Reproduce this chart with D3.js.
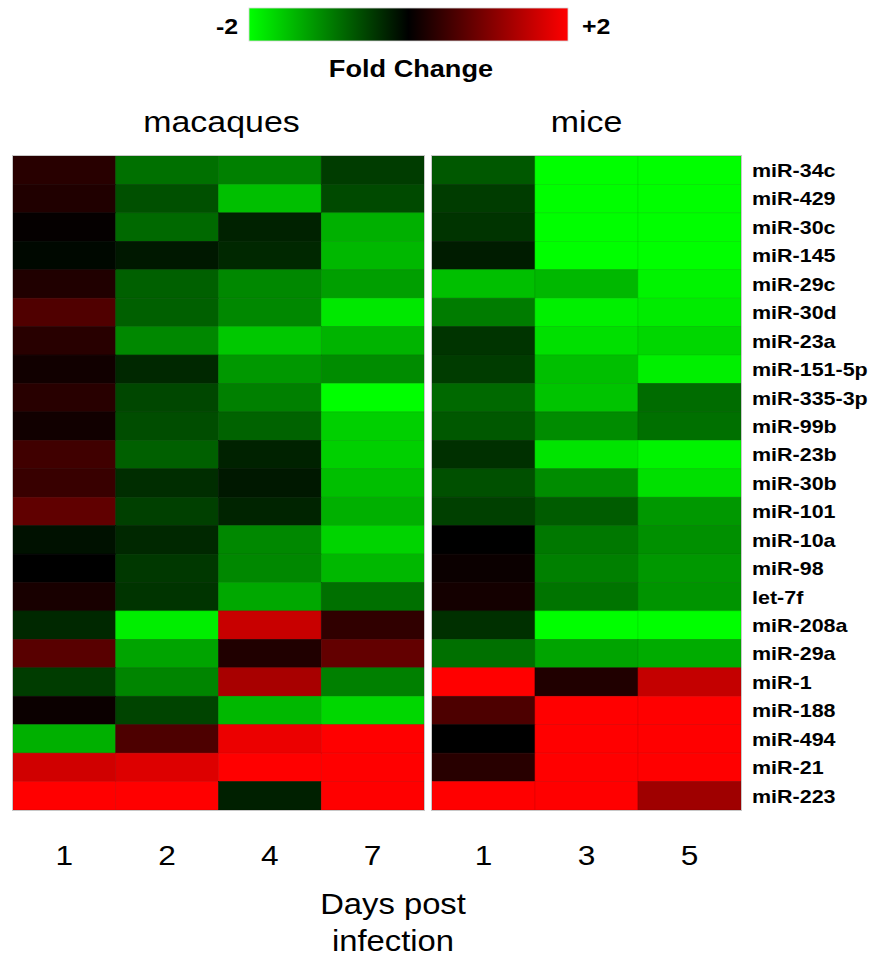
<!DOCTYPE html>
<html lang="en">
	<head>
		<meta charset="utf-8">
		<title>miRNA fold change heatmap</title>
		<script type="text/javascript" src="https://cdn.jsdelivr.net/npm/d3@7"></script>
		<style type="text/css">
			body { margin: 0; background: #fff; }
			text { font-family: "Liberation Sans", Arial, sans-serif; fill: #000; }
		</style>
	</head>
	<body>
		<script type="text/javascript">

			//Width and height
			var w = 875;
			var h = 961;
			var stretch = 1.13;  //the original figure is a little wider than its fonts

			//Row labels, top to bottom
			var mirnas = ["miR-34c", "miR-429", "miR-30c", "miR-145", "miR-29c", "miR-30d",
				"miR-23a", "miR-151-5p", "miR-335-3p", "miR-99b", "miR-23b", "miR-30b",
				"miR-101", "miR-10a", "miR-98", "let-7f", "miR-208a", "miR-29a",
				"miR-1", "miR-188", "miR-494", "miR-21", "miR-223"];

			//Days post infection
			var macaqueDays = ["1", "2", "4", "7"];
			var miceDays = ["1", "3", "5"];

			//Fold change per row, one value per day
			var macaqueValues = [
				[0.31, -0.88, -1.00, -0.47],
				[0.25, -0.63, -1.50, -0.58],
				[0.04, -0.82, -0.27, -1.38],
				[-0.06, -0.19, -0.31, -1.44],
				[0.25, -0.75, -1.07, -1.25],
				[0.63, -0.75, -1.07, -1.82],
				[0.31, -1.07, -1.57, -1.41],
				[0.13, -0.31, -1.19, -1.10],
				[0.31, -0.56, -1.00, -2.00],
				[0.13, -0.60, -0.78, -1.63],
				[0.50, -0.75, -0.27, -1.63],
				[0.44, -0.35, -0.19, -1.50],
				[0.75, -0.50, -0.28, -1.38],
				[-0.13, -0.31, -1.07, -1.66],
				[0.00, -0.44, -1.07, -1.44],
				[0.19, -0.41, -1.32, -0.88],
				[-0.31, -1.87, 1.57, 0.38],
				[0.69, -1.29, 0.25, 0.78],
				[-0.47, -1.04, 1.32, -1.00],
				[0.09, -0.53, -1.44, -1.69],
				[-1.38, 0.60, 1.85, 2.00],
				[1.63, 1.73, 2.00, 2.00],
				[2.00, 2.00, -0.25, 2.00]
			];

			var miceValues = [
				[-0.69, -2.00, -2.00],
				[-0.47, -2.00, -2.00],
				[-0.41, -2.00, -2.00],
				[-0.22, -2.00, -2.00],
				[-1.50, -1.44, -1.91],
				[-0.97, -1.88, -1.85],
				[-0.41, -1.76, -1.69],
				[-0.47, -1.50, -1.88],
				[-0.82, -1.54, -0.85],
				[-0.69, -1.10, -0.88],
				[-0.38, -1.79, -1.91],
				[-0.63, -1.10, -1.76],
				[-0.50, -0.72, -1.19],
				[0.00, -0.94, -1.13],
				[0.09, -1.00, -1.19],
				[0.16, -0.91, -1.16],
				[-0.38, -2.00, -2.00],
				[-0.88, -1.29, -1.35],
				[2.00, 0.25, 1.54],
				[0.60, 2.00, 2.00],
				[0.00, 2.00, 2.00],
				[0.31, 2.00, 2.00],
				[2.00, 2.00, 1.25]
			];

			//Legend end labels
			var legendTicks = ["-2", "+2"];

			//Colour scale green - black - red
			var colorScale = d3.scaleLinear()
							.domain([-2, 0, 2])
							.range(["#00ff00", "#000000", "#ff0000"])
							.clamp(true);

			//Rows shared by both panels
			var yScale = d3.scaleBand()
							.domain(mirnas)
							.range([156, 810]);

			var xMacaques = d3.scaleBand()
							.domain(macaqueDays)
							.range([13, 424]);

			var xMice = d3.scaleBand()
							.domain(miceDays)
							.range([432, 741]);

			//Create SVG element
			var svg = d3.select("body")
						.append("svg")
						.attr("width", w)
						.attr("height", h);

			//widen a text element to match the original figure
			function widen(sel) {
				sel.attr("textLength", function() { return this.getComputedTextLength() * stretch; })
				   .attr("lengthAdjust", "spacingAndGlyphs");
			}

			//Draw one panel of cells
			function drawPanel(name, days, values, xScale) {
				var cells = [];
				values.forEach(function(row, i) {
					row.forEach(function(v, j) {
						cells.push({ mirna: mirnas[i], day: days[j], value: v });
					});
				});

				var g = svg.append("g").attr("class", name);

				g.selectAll("rect")
				 .data(cells)
				 .enter()
				 .append("rect")
				 .attr("x", function(d) { return xScale(d.day); })
				 .attr("y", function(d) { return yScale(d.mirna); })
				 .attr("width", xScale.bandwidth())
				 .attr("height", yScale.bandwidth())
				 .attr("fill", function(d) { return colorScale(d.value); })
				 .attr("stroke", function(d) { return d3.color(colorScale(d.value)).darker(0.4); })
				 .attr("stroke-width", 0.6);

				//light frame around the panel
				g.append("rect")
				 .attr("x", xScale.range()[0] - 0.5)
				 .attr("y", yScale.range()[0] - 0.5)
				 .attr("width", xScale.range()[1] - xScale.range()[0] + 1)
				 .attr("height", yScale.range()[1] - yScale.range()[0] + 1)
				 .attr("fill", "none")
				 .attr("stroke", "#c8c8c8")
				 .attr("stroke-width", 1);

				//Day labels under the panel
				var xAxis = d3.axisBottom(xScale).tickSize(0).tickPadding(0);
				var ax = svg.append("g")
							.attr("class", "x axis " + name)
							.attr("transform", "translate(0,865)")
							.call(xAxis);
				ax.select(".domain").remove();
				ax.selectAll("text")
				  .attr("y", 0)
				  .attr("dy", 0)
				  .attr("font-size", "28px")
				  .attr("font-family", "Liberation Sans, Arial, sans-serif")
				  .call(widen);
			}

			drawPanel("macaques", macaqueDays, macaqueValues, xMacaques);
			drawPanel("mice", miceDays, miceValues, xMice);

			//miRNA labels on the right
			var yAxis = d3.axisRight(yScale).tickSize(0).tickPadding(0);
			var ay = svg.append("g")
						.attr("class", "y axis")
						.attr("transform", "translate(752,0)")
						.call(yAxis);
			ay.select(".domain").remove();
			ay.selectAll("text")
			  .attr("dy", "0.36em")
			  .attr("font-size", "19px")
			  .attr("font-weight", "bold")
			  .attr("font-family", "Liberation Sans, Arial, sans-serif")
			  .call(widen);

			//Panel titles
			svg.append("text")
				.attr("x", (xMacaques.range()[0] + xMacaques.range()[1]) / 2 + 3)
				.attr("y", 132)
				.attr("text-anchor", "middle")
				.attr("font-size", "30px")
				.text("macaques")
				.call(widen);

			svg.append("text")
				.attr("x", (xMice.range()[0] + xMice.range()[1]) / 2)
				.attr("y", 132)
				.attr("text-anchor", "middle")
				.attr("font-size", "30px")
				.text("mice")
				.call(widen);

			//Axis title
			svg.append("text")
				.attr("x", 393)
				.attr("y", 914)
				.attr("text-anchor", "middle")
				.attr("font-size", "29px")
				.text("Days post")
				.call(widen);

			svg.append("text")
				.attr("x", 393)
				.attr("y", 951)
				.attr("text-anchor", "middle")
				.attr("font-size", "29px")
				.text("infection")
				.call(widen);

			//Legend gradient
			var legendScale = d3.scaleLinear()
							.domain([-2, 2])
							.range([249, 568]);

			var defs = svg.append("defs");
			var grad = defs.append("linearGradient")
							.attr("id", "foldGradient")
							.attr("x1", "0%").attr("x2", "100%")
							.attr("y1", "0%").attr("y2", "0%");
			grad.selectAll("stop")
				.data(colorScale.domain())
				.enter()
				.append("stop")
				.attr("offset", function(d) { return ((d + 2) / 4 * 100) + "%"; })
				.attr("stop-color", function(d) { return colorScale(d); });

			svg.append("rect")
				.attr("x", legendScale(-2))
				.attr("y", 8)
				.attr("width", legendScale(2) - legendScale(-2))
				.attr("height", 33)
				.attr("fill", "url(#foldGradient)")
				.attr("stroke", "#d8d8d8")
				.attr("stroke-width", 0.8);

			svg.append("text")
				.attr("x", legendScale(-2) - 11)
				.attr("y", 34)
				.attr("text-anchor", "end")
				.attr("font-size", "22px")
				.attr("font-weight", "bold")
				.text(legendTicks[0])
				.call(widen);

			svg.append("text")
				.attr("x", legendScale(2) + 14)
				.attr("y", 34)
				.attr("text-anchor", "start")
				.attr("font-size", "22px")
				.attr("font-weight", "bold")
				.text(legendTicks[1])
				.call(widen);

			svg.append("text")
				.attr("x", 411)
				.attr("y", 77)
				.attr("text-anchor", "middle")
				.attr("font-size", "24px")
				.attr("font-weight", "bold")
				.text("Fold Change")
				.call(widen);

		</script>
	</body>
</html>
